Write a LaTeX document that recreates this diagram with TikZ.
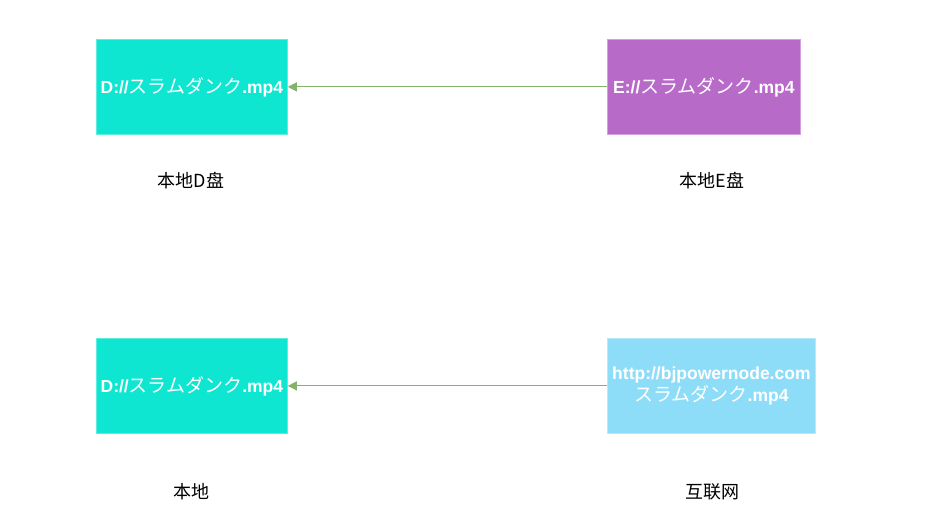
\documentclass[tikz,border=0pt]{standalone}
\usepackage{fontspec}
\setmainfont{Liberation Sans}
\newfontfamily\cjk{Noto Sans CJK SC}
\newcommand{\kana}[1]{{\cjk\mdseries\fontsize{19}{22}\selectfont #1}}
\usetikzlibrary{arrows.meta}
\definecolor{tealbox}{HTML}{0EE6D2}
\definecolor{tealedge}{HTML}{5EEDE0}
\definecolor{purplebox}{HTML}{B86AC8}
\definecolor{purpleedge}{HTML}{D39FDE}
\definecolor{bluebox}{HTML}{8EDDF8}
\definecolor{blueedge}{HTML}{B5E9FB}
\definecolor{arrowgreen}{HTML}{82B366}
\tikzset{
  filebox/.style={draw, line width=0.8pt, minimum width=191pt, minimum height=95pt, inner sep=0pt, text=white, font=\fontsize{17.5}{22}\selectfont\bfseries, align=center, anchor=north west},
  caption/.style={font=\fontsize{18}{20}\selectfont\cjk, text=black},
  link/.style={draw=arrowgreen, line width=1.2pt, -{Triangle[length=9pt,width=9pt]}}
}
\begin{document}
\begin{tikzpicture}[x=1pt,y=-1pt]
\useasboundingbox (0,0) rectangle (940,526);
\node[filebox, fill=tealbox, draw=tealedge] (d1) at (96,39) {D://\kana{スラムダンク}.mp4};
\node[filebox, fill=purplebox, draw=purpleedge, minimum width=193pt] (e1) at (607,39) {E://\kana{スラムダンク}.mp4};
\node[filebox, fill=tealbox, draw=tealedge] (d2) at (96,338) {D://\kana{スラムダンク}.mp4};
\node[filebox, fill=bluebox, draw=blueedge, minimum width=208pt] (h2) at (607,338) {http://bjpowernode.com\\\kana{スラムダンク}.mp4};
\node[caption] (c1) at (191,181) {本地D盘};
\node[caption] (c2) at (712,181) {本地E盘};
\node[caption] (c3) at (191,492) {本地};
\node[caption] (c4) at (712,492) {互联网};
\draw[link] (e1.west) -- (d1.east);
\draw[link] (h2.west) -- (d2.east);
\end{tikzpicture}
\end{document}
